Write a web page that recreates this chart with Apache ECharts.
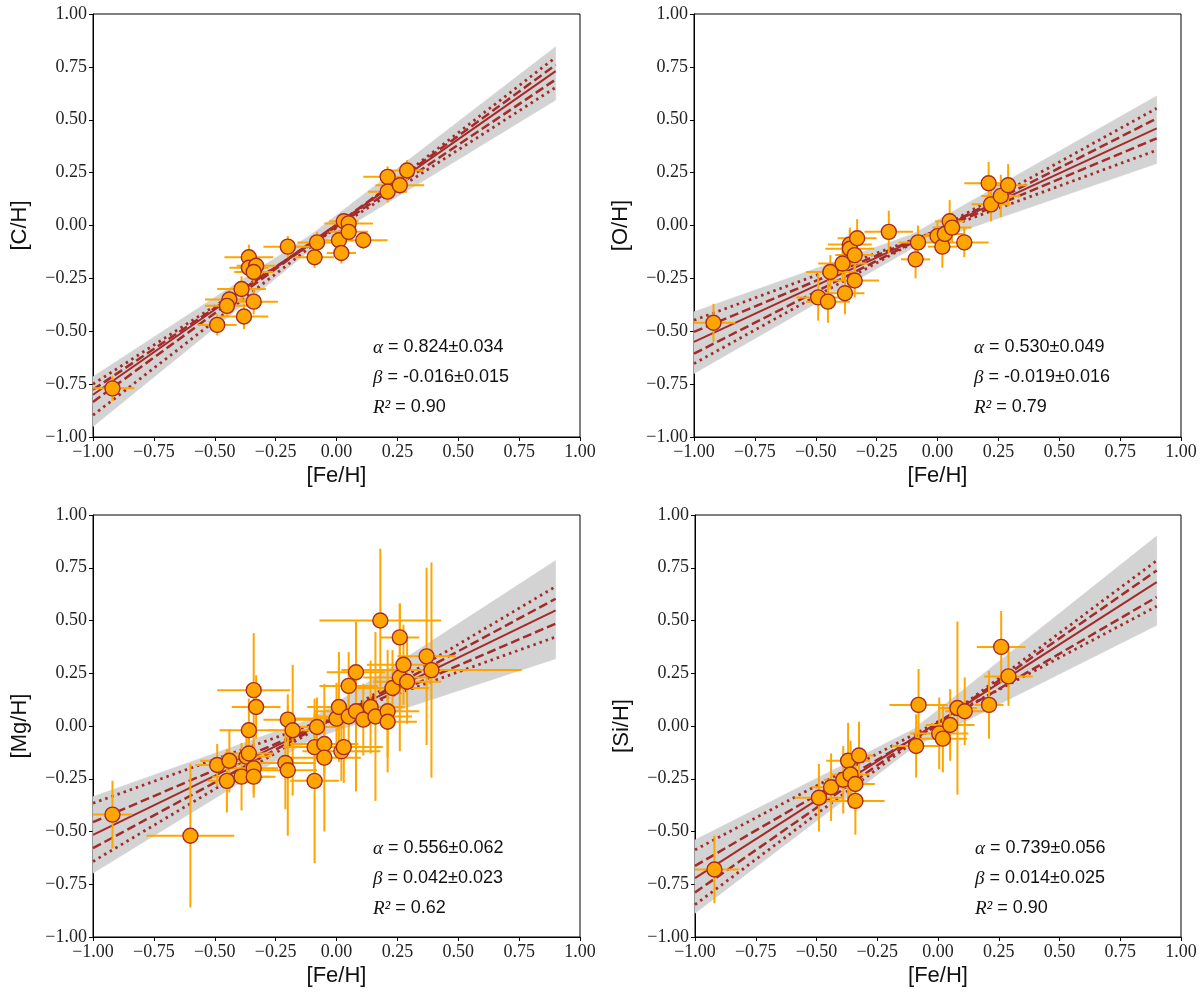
<!DOCTYPE html>
<html>
<head>
<meta charset="utf-8">
<script src="https://cdn.jsdelivr.net/npm/echarts@6/dist/echarts.min.js"></script>
<style>
html, body { margin: 0; padding: 0; background: #fff; }
#main { width: 1200px; height: 998px; }
</style>
</head>
<body>
<div id="main"></div>
<script>
// ---- [C/H] vs [Fe/H]
var cFe     = [-0.92, -0.49, -0.44, -0.45, -0.39, -0.38, -0.34, -0.36, -0.36, -0.33, -0.34, -0.20, -0.09, -0.08, 0.01, 0.02, 0.03, 0.05, 0.05, 0.11, 0.21, 0.21, 0.26, 0.29];
var cVal    = [-0.77, -0.47, -0.35, -0.38, -0.30, -0.43, -0.36, -0.15, -0.20, -0.19, -0.22, -0.10, -0.15, -0.08, -0.07, -0.13, 0.02, 0.01, -0.03, -0.07, 0.23, 0.16, 0.19, 0.26];
var cFeErr  = [0.09, 0.08, 0.10, 0.09, 0.10, 0.10, 0.10, 0.10, 0.08, 0.08, 0.08, 0.10, 0.08, 0.08, 0.06, 0.06, 0.06, 0.10, 0.08, 0.10, 0.10, 0.08, 0.10, 0.07];
var cValErr = [0.06, 0.05, 0.05, 0.05, 0.06, 0.06, 0.06, 0.06, 0.05, 0.05, 0.05, 0.05, 0.05, 0.05, 0.05, 0.05, 0.04, 0.04, 0.04, 0.04, 0.05, 0.05, 0.04, 0.05];
var cFit   = [[-1, -0.80], [0.9, 0.73]];
var cDashA = [[-1, -0.776], [0.9, 0.69]];
var cDashB = [[-1, -0.834], [0.9, 0.759]];
var cDotA  = [[-1, -0.75], [0.9, 0.653]];
var cDotB  = [[-1, -0.897], [0.9, 0.795]];
var cBand  = [[-1, -0.95, -0.715], [-0.1, -0.11, -0.04], [0.9, 0.593, 0.845]];
var cText  = ['0.824±0.034', '-0.016±0.015', '0.90'];

// ---- [O/H] vs [Fe/H]
var oFe     = [-0.92, -0.49, -0.45, -0.44, -0.39, -0.38, -0.36, -0.36, -0.34, -0.33, -0.34, -0.20, -0.08, -0.09, 0.00, 0.02, 0.03, 0.05, 0.06, 0.11, 0.21, 0.22, 0.26, 0.29];
var oVal    = [-0.46, -0.34, -0.36, -0.22, -0.18, -0.32, -0.09, -0.11, -0.14, -0.06, -0.26, -0.03, -0.08, -0.16, -0.05, -0.10, -0.04, 0.02, -0.01, -0.08, 0.20, 0.10, 0.14, 0.19];
var oFeErr  = [0.09, 0.09, 0.09, 0.10, 0.10, 0.08, 0.09, 0.10, 0.08, 0.08, 0.10, 0.10, 0.08, 0.06, 0.06, 0.06, 0.08, 0.06, 0.08, 0.10, 0.10, 0.08, 0.08, 0.08];
var oValErr = [0.09, 0.11, 0.10, 0.08, 0.08, 0.10, 0.08, 0.09, 0.08, 0.09, 0.08, 0.10, 0.08, 0.09, 0.07, 0.10, 0.07, 0.10, 0.07, 0.07, 0.10, 0.08, 0.10, 0.10];
var oFit   = [[-1, -0.55], [0.9, 0.459]];
var oDashA = [[-1, -0.503], [0.9, 0.412]];
var oDashB = [[-1, -0.606], [0.9, 0.506]];
var oDotA  = [[-1, -0.448], [0.9, 0.356]];
var oDotB  = [[-1, -0.653], [0.9, 0.554]];
var oBand  = [[-1, -0.70, -0.408], [-0.1, -0.105, -0.04], [0.9, 0.293, 0.612]];
var oText  = ['0.530±0.049', '-0.019±0.016', '0.79'];

// ---- [Mg/H] vs [Fe/H]
var mFe     = [-0.92, -0.60, -0.49, -0.44, -0.45, -0.39, -0.37, -0.36, -0.36, -0.34, -0.33, -0.34, -0.34, -0.20, -0.18, -0.21, -0.20, -0.09, -0.09, -0.08, -0.05, -0.05, 0.00, 0.01, 0.02, 0.03, 0.05, 0.05, 0.08, 0.08, 0.11, 0.14, 0.16, 0.18, 0.21, 0.21, 0.23, 0.26, 0.26, 0.275, 0.29, 0.37, 0.39];
var mVal    = [-0.42, -0.52, -0.185, -0.165, -0.26, -0.24, -0.145, -0.13, -0.02, 0.17, 0.09, -0.20, -0.24, 0.03, -0.02, -0.175, -0.21, -0.26, -0.10, -0.005, -0.085, -0.15, 0.035, 0.09, -0.12, -0.10, 0.19, 0.045, 0.255, 0.07, 0.03, 0.09, 0.045, 0.50, 0.07, 0.02, 0.18, 0.42, 0.23, 0.29, 0.21, 0.33, 0.265];
var mFeErr  = [0.08, 0.18, 0.09, 0.12, 0.08, 0.12, 0.10, 0.10, 0.12, 0.15, 0.10, 0.10, 0.09, 0.10, 0.10, 0.12, 0.12, 0.10, 0.13, 0.11, 0.14, 0.15, 0.17, 0.13, 0.16, 0.16, 0.12, 0.14, 0.12, 0.17, 0.12, 0.14, 0.15, 0.25, 0.13, 0.12, 0.15, 0.08, 0.15, 0.15, 0.14, 0.12, 0.37];
var mValErr = [0.16, 0.34, 0.10, 0.15, 0.15, 0.16, 0.12, 0.14, 0.15, 0.27, 0.15, 0.12, 0.10, 0.12, 0.31, 0.22, 0.31, 0.39, 0.16, 0.14, 0.15, 0.35, 0.17, 0.26, 0.14, 0.17, 0.16, 0.16, 0.24, 0.38, 0.17, 0.22, 0.40, 0.34, 0.29, 0.17, 0.18, 0.16, 0.35, 0.19, 0.20, 0.42, 0.51];
var mFit   = [[-1, -0.516], [0.9, 0.548]];
var mDashA = [[-1, -0.456], [0.9, 0.485]];
var mDashB = [[-1, -0.579], [0.9, 0.603]];
var mDotA  = [[-1, -0.366], [0.9, 0.422]];
var mDotB  = [[-1, -0.642], [0.9, 0.661]];
var mBand  = [[-1, -0.697, -0.335], [-0.1, -0.06, 0.035], [0.9, 0.319, 0.784]];
var mText  = ['0.556±0.062', '0.042±0.023', '0.62'];

// ---- [Si/H] vs [Fe/H]
var sFe     = [-0.92, -0.49, -0.44, -0.39, -0.37, -0.36, -0.34, -0.34, -0.325, -0.09, -0.08, 0.005, 0.02, 0.05, 0.08, 0.11, 0.21, 0.26, 0.29];
var sVal    = [-0.68, -0.34, -0.29, -0.255, -0.165, -0.23, -0.275, -0.355, -0.14, -0.095, 0.10, -0.035, -0.06, 0.005, 0.085, 0.07, 0.10, 0.375, 0.235];
var sFeErr  = [0.10, 0.10, 0.08, 0.08, 0.09, 0.08, 0.08, 0.12, 0.06, 0.10, 0.12, 0.12, 0.10, 0.10, 0.08, 0.08, 0.06, 0.10, 0.10];
var sValErr = [0.16, 0.16, 0.16, 0.16, 0.18, 0.16, 0.13, 0.16, 0.16, 0.15, 0.17, 0.17, 0.16, 0.17, 0.41, 0.16, 0.16, 0.17, 0.14];
var sFit   = [[-1, -0.721], [0.9, 0.682]];
var sDashA = [[-1, -0.663], [0.9, 0.611]];
var sDashB = [[-1, -0.789], [0.9, 0.737]];
var sDotA  = [[-1, -0.587], [0.9, 0.567]];
var sDotB  = [[-1, -0.847], [0.9, 0.784]];
var sBand  = [[-1, -0.887, -0.54], [-0.1, -0.10, -0.015], [0.9, 0.477, 0.90]];
var sText  = ['0.739±0.056', '0.014±0.025', '0.90'];

var yNames = ['[C/H]', '[O/H]', '[Mg/H]', '[Si/H]'];

var fitColor = '#a52a2a';
var ptColor = '#ffa500';

var myChart = echarts.init(document.getElementById('main'));

var grids = [
    {left: 93, top: 14, width: 487, height: 423},
    {left: 694, top: 14, width: 487, height: 423},
    {left: 93, top: 515, width: 487, height: 422},
    {left: 695, top: 515, width: 486, height: 422}
];

function tickFmt(v) {
    var s = Math.abs(v).toFixed(2);
    return (v < 0 ? '\u2212' : '') + s;
}

function makeAxis(i, isX) {
    return {
        type: 'value', gridIndex: i, min: -1, max: 1, interval: 0.25,
        name: isX ? '[Fe/H]' : yNames[i],
        nameLocation: 'middle',
        nameGap: isX ? 28 : 62,
        nameTextStyle: {fontFamily: 'Liberation Sans', fontSize: 22, color: '#111'},
        axisLine: {show: true, onZero: false, lineStyle: {color: '#000', width: 1}},
        axisTick: {show: true, length: 4, lineStyle: {color: '#000'}},
        axisLabel: {fontFamily: 'Liberation Serif', fontSize: 18, color: '#222', margin: 6, formatter: tickFmt},
        splitLine: {show: false}
    };
}

function bandSeries(i, band) {
    return {
        type: 'custom', xAxisIndex: i, yAxisIndex: i, silent: true, z: 1,
        data: band,
        renderItem: function (params, api) {
            var k = params.dataIndex;
            if (k >= band.length - 1) return;
            var a = band[k], b = band[k + 1];
            var pts = [
                api.coord([a[0], a[1]]), api.coord([b[0], b[1]]),
                api.coord([b[0], b[2]]), api.coord([a[0], a[2]])
            ];
            return {type: 'polygon', shape: {points: pts},
                    style: {fill: '#d3d3d3', stroke: '#d3d3d3', lineWidth: 0.6}};
        }
    };
}

function lineSeries(i, data, kind) {
    var ls = {color: fitColor, width: 2};
    if (kind === 'dash') { ls.width = 2.5; ls.type = [9, 4]; }
    if (kind === 'dot') { ls.width = 2.8; ls.type = [2.5, 4]; }
    return {
        type: 'line', xAxisIndex: i, yAxisIndex: i, data: data, showSymbol: false,
        silent: true, z: 2, lineStyle: ls
    };
}

function errSeries(i, xs, ys, ex, ey) {
    var d = xs.map(function (x, k) { return [x, ys[k], ex[k], ey[k]]; });
    return {
        type: 'custom', xAxisIndex: i, yAxisIndex: i, silent: true, z: 3, clip: true,
        data: d,
        renderItem: function (params, api) {
            var x = api.value(0), y = api.value(1), dx = api.value(2), dy = api.value(3);
            var l = api.coord([x - dx, y]), r = api.coord([x + dx, y]);
            var t = api.coord([x, y + dy]), b = api.coord([x, y - dy]);
            var st = {stroke: ptColor, lineWidth: 2};
            return {type: 'group', children: [
                {type: 'line', shape: {x1: l[0], y1: l[1], x2: r[0], y2: r[1]}, style: st},
                {type: 'line', shape: {x1: t[0], y1: t[1], x2: b[0], y2: b[1]}, style: st}
            ]};
        }
    };
}

function ptSeries(i, xs, ys) {
    return {
        type: 'scatter', xAxisIndex: i, yAxisIndex: i, z: 4,
        data: xs.map(function (x, k) { return [x, ys[k]]; }),
        symbolSize: 15,
        itemStyle: {color: ptColor, borderColor: fitColor, borderWidth: 1.4, opacity: 1}
    };
}

var panels = [
    [cFe, cVal, cFeErr, cValErr, cFit, cDashA, cDashB, cDotA, cDotB, cBand],
    [oFe, oVal, oFeErr, oValErr, oFit, oDashA, oDashB, oDotA, oDotB, oBand],
    [mFe, mVal, mFeErr, mValErr, mFit, mDashA, mDashB, mDotA, mDotB, mBand],
    [sFe, sVal, sFeErr, sValErr, sFit, sDashA, sDashB, sDotA, sDotB, sBand]
];
var texts = [cText, oText, mText, sText];

var series = [];
var xAxes = [], yAxes = [];
var graphics = [];
panels.forEach(function (p, i) {
    xAxes.push(makeAxis(i, true));
    yAxes.push(makeAxis(i, false));
    series.push(bandSeries(i, p[9]));
    series.push(lineSeries(i, p[7], 'dot'));
    series.push(lineSeries(i, p[8], 'dot'));
    series.push(lineSeries(i, p[5], 'dash'));
    series.push(lineSeries(i, p[6], 'dash'));
    series.push(lineSeries(i, p[4], 'solid'));
    series.push(errSeries(i, p[0], p[1], p[2], p[3]));
    series.push(ptSeries(i, p[0], p[1]));

    var g = grids[i];
    var tx = g.left + 280;
    var lines = [
        '{m|\u03b1} = ' + texts[i][0],
        '{m|\u03b2} = ' + texts[i][1],
        '{m|R\u00b2} = ' + texts[i][2]
    ];
    lines.forEach(function (s, k) {
        graphics.push({
            type: 'text', left: tx, top: g.top + 324 + k * 30, z: 10,
            style: {
                text: s, fill: '#111', font: '18px "Liberation Sans"',
                rich: {
                    m: {fontFamily: 'Liberation Serif', fontStyle: 'italic', fontSize: 19, fill: '#111'}
                }
            }
        });
    });
});

var gridList = grids.map(function (g) {
    return {left: g.left, top: g.top, width: g.width, height: g.height,
            show: true, borderColor: '#000', borderWidth: 1, backgroundColor: '#fff'};
});

myChart.setOption({
    animation: false,
    backgroundColor: '#fff',
    grid: gridList,
    xAxis: xAxes,
    yAxis: yAxes,
    series: series,
    graphic: graphics
});
</script>
</body>
</html>
